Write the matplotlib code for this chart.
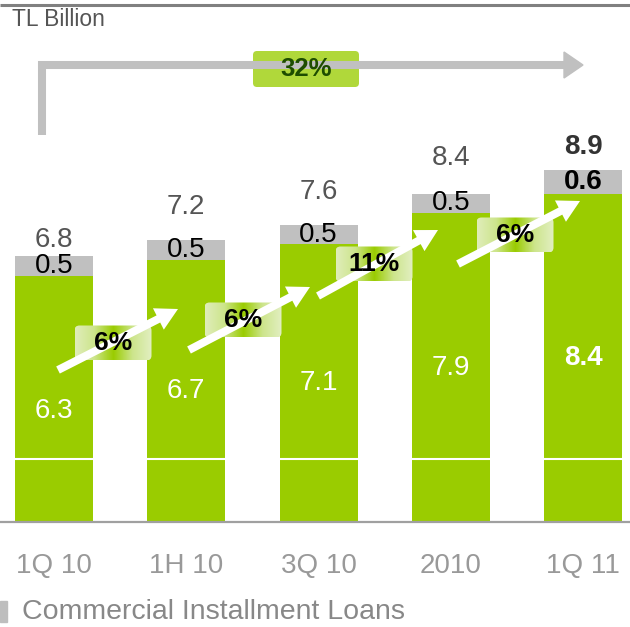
import numpy as np
import matplotlib.pyplot as plt
from matplotlib.patches import FancyBboxPatch, FancyArrow, Rectangle, Polygon
from matplotlib.colors import LinearSegmentedColormap

plt.rcParams['font.family'] = ['Liberation Sans', 'DejaVu Sans']

# ---- data (TL billion) ----
periods = ["1Q 10", "1H 10", "3Q 10", "2010", "1Q 11"]
base_loans = [6.3, 6.7, 7.1, 7.9, 8.4]
extra_loans = [0.5, 0.5, 0.5, 0.5, 0.6]
totals = [6.8, 7.2, 7.6, 8.4, 8.9]
step_growth = ["6%", "6%", "11%", "6%"]
total_growth = "32%"

GREEN = '#9ACC00'
GREY = '#C0C0C0'

W, H = 630, 627
fig = plt.figure(figsize=(W / 100, H / 100), dpi=100)

# bar axes: baseline at pixel row 522, ~39 px per billion
base_px = 522
px_per_unit = 39.1
ax = fig.add_axes([0, (H - base_px) / H, 1, base_px / H])
ax.set_ylim(0, base_px / px_per_unit)
ax.set_xlim(-54 / 132.3, (W - 54) / 132.3)

x = np.arange(len(periods))
bw = 0.59
ax.bar(x, base_loans, width=bw, color=GREEN, zorder=2)
ax.bar(x, extra_loans, width=bw, bottom=base_loans, color=GREY, zorder=2)
ax.axhline(1.6, color='white', lw=1.5, zorder=3)

for sp in ['top', 'left', 'right']:
    ax.spines[sp].set_visible(False)
ax.spines['bottom'].set_color('#A0A0A0')
ax.spines['bottom'].set_linewidth(1.6)
ax.set_yticks([])
ax.set_xticks(x, periods, fontsize=20, color='#999999')
ax.tick_params(axis='x', length=0, pad=22.5)

# value labels
total_gap = [0.41, 0.86, 0.84, 0.91, 0.69]
green_shift = [-0.3, 0, 0, 0, 0]
for i in x:
    last = i == len(x) - 1
    fw = 'bold' if last else 'normal'
    ax.text(i, totals[i] + total_gap[i], f"{totals[i]:.1f}", ha='center', va='center',
            fontsize=20, color='#333333' if last else '#555555', fontweight=fw)
    ax.text(i, base_loans[i] + extra_loans[i] / 2, f"{extra_loans[i]:.1f}", ha='center',
            va='center', fontsize=20, color='black', fontweight=fw)
    ax.text(i, base_loans[i] / 2 + green_shift[i], f"{base_loans[i]:.1f}", ha='center',
            va='center', fontsize=20, color='white', fontweight=fw)

# overlay in pixel units for arrows and badges
ov = fig.add_axes([0, 0, 1, 1], zorder=5)
ov.set_xlim(0, W)
ov.set_ylim(H, 0)
ov.axis('off')
ov.patch.set_alpha(0)

ov.plot([0, W], [5, 5], color='#808080', lw=2.2, solid_capstyle='butt')
ov.text(12, 20, "TL Billion", fontsize=16.5, color='#555555', va='center', ha='left')

# overall growth bracket
ov.plot([42, 42, 566], [135, 65, 65], color=GREY, lw=5.8,
        solid_joinstyle='miter', solid_capstyle='butt')
ov.add_patch(Polygon([(564, 52), (583, 65), (564, 78)], closed=True, color=GREY))
ov.add_patch(FancyBboxPatch((253, 51), 106, 36, boxstyle='round,pad=0,rounding_size=4',
                            fc='#A8D424', ec='none', alpha=0.9))
ov.text(306, 69, total_growth, ha='center', va='center', fontsize=18.5,
        fontweight='bold', color='#1E4D00')

# step arrows with gradient badges
tails = [(58, 370), (189, 350), (318, 296), (458, 264)]
tips = [(178, 309), (310, 287), (438, 230), (580, 201)]
centers = [(113, 343), (243, 320), (374, 264), (515, 235)]
badge_cmap = LinearSegmentedColormap.from_list(
    'badge', ['#E0EDBA', '#CDE58C', '#9ACC00', '#CDE58C', '#E2EFC2'])
grad = np.linspace(0, 1, 256).reshape(1, -1)

for (tx, ty), (hx, hy), (cx, cy), lab in zip(tails, tips, centers, step_growth):
    ov.add_patch(FancyArrow(tx, ty, hx - tx, hy - ty, width=8, head_width=24,
                            head_length=22, length_includes_head=True,
                            color='white', lw=0))
    bwid, bht = 77, 35
    box = FancyBboxPatch((cx - bwid / 2, cy - bht / 2), bwid, bht,
                         boxstyle='round,pad=0,rounding_size=5', fc='none', ec='none')
    ov.add_patch(box)
    im = ov.imshow(grad, cmap=badge_cmap, aspect='auto',
                   extent=(cx - bwid / 2, cx + bwid / 2, cy + bht / 2, cy - bht / 2))
    im.set_clip_path(box)
    ov.text(cx, cy, lab, ha='center', va='center', fontsize=19,
            fontweight='bold', color='black')

ov.set_xlim(0, W)
ov.set_ylim(H, 0)

# legend
ov.add_patch(Rectangle((0, 601), 7, 21, color='#BEBEBE'))
ov.text(22, 612, "Commercial Installment Loans", fontsize=20.5, color='#888888',
        va='center', ha='left')

fig.savefig('out.png', dpi=100)
